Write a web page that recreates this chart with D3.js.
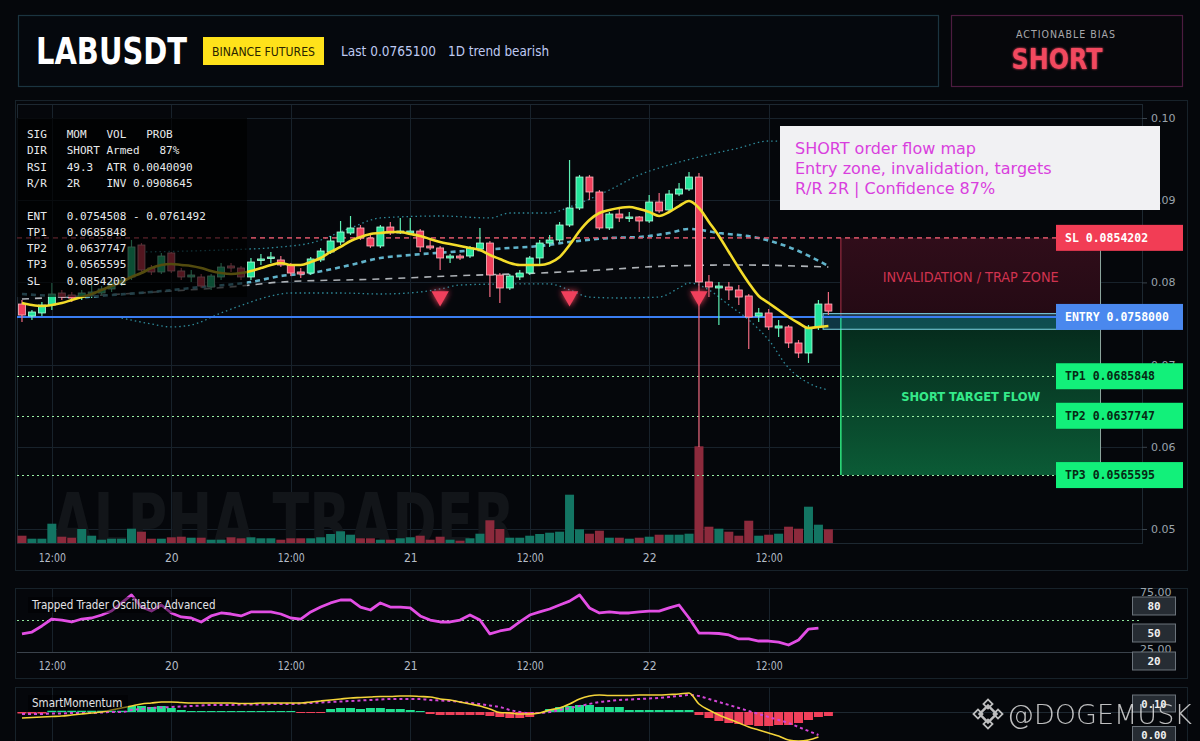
<!DOCTYPE html>
<html><head><meta charset="utf-8">
<script src="https://cdn.jsdelivr.net/npm/d3@7"></script>
<style>
html,body{margin:0;padding:0;background:#05070b;}
svg{display:block;}
.cond{font-family:"DejaVu Sans Condensed","DejaVu Sans","Liberation Sans Narrow",sans-serif;font-stretch:condensed;}
.mono{font-family:"DejaVu Sans Mono","Liberation Mono",monospace;}
</style></head>
<body>
<svg id="c" width="1200" height="741"></svg>
<script>
// ---------------- DATA ----------------
const symbol = "LABUSDT";
const exchange = "BINANCE FUTURES";
const lastText = "Last 0.0765100";
const trendText = "1D trend bearish";
const biasLabel = "ACTIONABLE BIAS";
const biasValue = "SHORT";

const opens = [0.07737,0.07591,0.07628,0.07725,0.07871,0.07847,0.07822,0.07859,0.07871,0.07920,
 0.07981,0.08066,0.08455,0.08175,0.08127,0.08358,0.08139,0.08066,0.08066,0.07944,
 0.08066,0.08200,0.08175,0.08066,0.08273,0.08297,0.08273,0.08212,0.08127,0.08114,
 0.08273,0.08370,0.08492,0.08601,0.08662,0.08540,0.08443,0.08674,0.08601,0.08601,
 0.08625,0.08443,0.08419,0.08297,0.08321,0.08321,0.08406,0.08479,0.08090,0.07932,
 0.08066,0.08114,0.08297,0.08479,0.08516,0.08698,0.08905,0.09282,0.09100,0.08662,
 0.08832,0.08784,0.08796,0.08747,0.08978,0.08881,0.09075,0.09136,0.09282,0.08005,
 0.07932,0.07944,0.07908,0.07835,0.07591,0.07628,0.07445,0.07458,0.07263,0.07141,
 0.07458,0.07737];
const closes = [0.07603,0.07640,0.07725,0.07859,0.07822,0.07810,0.07871,0.07883,0.07920,0.07993,
 0.08029,0.08431,0.08151,0.08127,0.08321,0.08139,0.08066,0.08090,0.07956,0.08078,
 0.08187,0.08175,0.08066,0.08248,0.08285,0.08309,0.08212,0.08114,0.08102,0.08285,
 0.08382,0.08504,0.08613,0.08662,0.08540,0.08443,0.08674,0.08601,0.08625,0.08625,
 0.08431,0.08419,0.08297,0.08321,0.08297,0.08419,0.08479,0.08090,0.07932,0.08078,
 0.08114,0.08297,0.08479,0.08516,0.08698,0.08905,0.09282,0.09100,0.08662,0.08832,
 0.08784,0.08796,0.08747,0.08978,0.08869,0.09075,0.09136,0.09282,0.08005,0.07944,
 0.07956,0.07908,0.07822,0.07579,0.07628,0.07458,0.07470,0.07263,0.07141,0.07445,
 0.07737,0.07651];
const highs = [0.07786,0.07664,0.07762,0.07993,0.07908,0.07883,0.07908,0.07968,0.07956,0.08029,
 0.08066,0.08516,0.08479,0.08212,0.08358,0.08370,0.08175,0.08151,0.08102,0.08102,
 0.08236,0.08236,0.08200,0.08297,0.08346,0.08370,0.08321,0.08236,0.08175,0.08309,
 0.08419,0.08565,0.08747,0.08808,0.08698,0.08577,0.08698,0.08735,0.08784,0.08784,
 0.08650,0.08516,0.08443,0.08346,0.08346,0.08443,0.08662,0.08504,0.08114,0.08102,
 0.08151,0.08321,0.08516,0.08577,0.08735,0.09489,0.09307,0.09307,0.09124,0.08856,
 0.08905,0.08856,0.08808,0.09063,0.09088,0.09124,0.09209,0.09343,0.09331,0.08090,
 0.08005,0.08005,0.07968,0.07859,0.07689,0.07676,0.07543,0.07482,0.07299,0.07482,
 0.07786,0.07883];
const lows = [0.07518,0.07543,0.07591,0.07664,0.07786,0.07762,0.07786,0.07810,0.07847,0.07883,
 0.07956,0.08029,0.08114,0.08090,0.08102,0.08114,0.08029,0.08005,0.07932,0.07908,
 0.08029,0.08127,0.08029,0.08029,0.08212,0.08236,0.08187,0.08078,0.08054,0.08090,
 0.08248,0.08346,0.08455,0.08577,0.08516,0.08419,0.08419,0.08577,0.08589,0.08589,
 0.08370,0.08394,0.08151,0.08236,0.08273,0.08297,0.08382,0.07822,0.07749,0.07908,
 0.08029,0.08090,0.08212,0.08431,0.08492,0.08674,0.08881,0.09002,0.08638,0.08638,
 0.08735,0.08735,0.08613,0.08723,0.08844,0.08856,0.09051,0.09112,0.05998,0.07822,
 0.07482,0.07786,0.07725,0.07190,0.07518,0.07421,0.07336,0.07202,0.07080,0.07020,
 0.07421,0.07603];
const volumes = [83,53,53,203,73,63,150,83,43,53,
 53,153,123,53,53,67,73,63,63,43,
 43,67,57,67,57,57,43,57,57,57,
 67,100,127,93,57,57,43,43,57,67,
 83,43,73,43,33,57,103,237,150,63,
 63,83,100,113,123,493,147,103,133,63,
 63,53,63,73,93,93,93,103,977,173,
 153,123,83,233,83,93,103,173,153,373,
 193,147];
const emaFast = [0.07749,0.07725,0.07713,0.07725,0.07749,0.07786,0.07822,0.07859,0.07908,0.07956,
 0.08005,0.08066,0.08114,0.08175,0.08212,0.08224,0.08212,0.08200,0.08175,0.08139,
 0.08114,0.08102,0.08114,0.08139,0.08175,0.08212,0.08236,0.08212,0.08212,0.08248,
 0.08297,0.08370,0.08431,0.08504,0.08552,0.08589,0.08601,0.08613,0.08613,0.08589,
 0.08565,0.08528,0.08492,0.08467,0.08443,0.08419,0.08394,0.08333,0.08285,0.08236,
 0.08212,0.08212,0.08212,0.08236,0.08309,0.08455,0.08625,0.08759,0.08844,0.08881,
 0.08905,0.08917,0.08893,0.08856,0.08808,0.08856,0.08929,0.08990,0.08905,0.08735,
 0.08565,0.08370,0.08175,0.07993,0.07835,0.07749,0.07664,0.07579,0.07506,0.07445,
 0.07458,0.07470];
// sparse knots (candle index, price)
const maMidIdx = [0,3,6,9,13,18,23,26,29,33,36,39,43,46,49,52,55,59,62,65,67,70,74,77,81];
const maMidVal = [0.07859,0.07835,0.07822,0.07847,0.07883,0.07944,0.08005,0.08078,0.08114,0.08212,0.08297,0.08333,0.08370,0.08394,0.08419,0.08443,0.08492,0.08540,0.08552,0.08601,0.08650,0.08601,0.08540,0.08431,0.08200];
const maSlowIdx = [0,10,23,26,36,43,52,58,65,72,81];
const maSlowVal = [0.07798,0.07859,0.07968,0.08005,0.08041,0.08078,0.08114,0.08151,0.08200,0.08212,0.08187];
const bandUpIdx = [12,20,26,29,33,36,42,47,49,53,55,59,62,65,68,72,75,78,81];
const bandUpVal = [0.08370,0.08394,0.08431,0.08479,0.08662,0.08784,0.08808,0.08784,0.08844,0.08844,0.08917,0.09124,0.09307,0.09428,0.09526,0.09635,0.09720,0.09696,0.09611];
const bandLoIdx = [10,13,15,17,20,23,25,27,32,36,40,42,44,49,53,55,57,60,64,66,67,69,71,73,75,77,79,81];
const bandLoVal = [0.07567,0.07494,0.07458,0.07482,0.07628,0.07762,0.07835,0.07871,0.07871,0.07859,0.07883,0.07920,0.07968,0.07981,0.07981,0.07908,0.07822,0.07810,0.07822,0.07932,0.07993,0.07908,0.07725,0.07543,0.07299,0.06959,0.06776,0.06691];
const signalIdx = [42,55,68];
const signalPrice = 0.0783;

const levelNames = ["SL","ENTRY","TP1","TP2","TP3"];
const levelPrices = [0.0854202,0.0758000,0.0685848,0.0637747,0.0565595];
const entryZone = [0.0762,0.0743];
const priceTicks = [0.05,0.06,0.07,0.08,0.09,0.10];
const timeTicks = ["2025-10-19T12:00Z","2025-10-20T00:00Z","2025-10-20T12:00Z","2025-10-21T00:00Z","2025-10-21T12:00Z","2025-10-22T00:00Z","2025-10-22T12:00Z"];

const infoRows = ["SIG   MOM   VOL   PROB","DIR   SHORT Armed   87%","RSI   49.3  ATR 0.0040090","R/R   2R    INV 0.0908645","","ENT   0.0754508 - 0.0761492","TP1   0.0685848","TP2   0.0637747","TP3   0.0565595","SL    0.0854202"];
const noteLines = ["SHORT order flow map","Entry zone, invalidation, targets","R/R 2R | Confidence 87%"];

const osc = [38.2,39.9,45.2,51.3,50.4,48.7,51.3,52.2,54.8,58.3,
 65.4,72.4,61.8,58.3,63.6,56.6,53.1,52.2,48.7,54.0,
 56.6,55.7,54.0,57.5,57.5,57.5,55.7,52.2,51.3,57.5,
 61.8,65.4,68.0,68.0,61.8,59.2,65.4,61.8,61.8,61.0,
 54.0,50.4,48.7,48.7,50.4,54.8,50.4,38.2,40.8,42.5,
 48.7,54.8,57.5,60.1,63.6,67.0,72.4,61.0,56.6,57.5,
 56.6,56.6,57.5,58.3,58.3,61.0,63.6,52.2,39.0,39.0,
 38.6,37.3,33.8,33.8,32.0,32.0,31.1,28.5,32.9,42.5,
 43.4];
const oscTicks = [25,75];
const oscBoxes = ["80","50","20"];

const momHist = [-0.015,-0.015,-0.015,0.015,0.015,0.015,0.015,0.015,0.015,0.015,
 0.015,0.06,0.06,0.05,0.06,0.04,0.02,0.01,0.01,0.01,
 0.01,0.01,0.01,0.01,0.01,0.01,0.01,0.01,-0.01,-0.01,
 -0.01,0.03,0.04,0.04,0.03,0.04,0.04,0.03,0.03,0.02,
 0.01,-0.02,-0.03,-0.03,-0.03,-0.03,-0.03,-0.04,-0.05,-0.06,
 -0.06,-0.05,-0.01,0.03,0.05,0.06,0.07,0.07,0.05,0.05,
 0.05,0.02,0.02,0.02,0.02,0.02,0.02,0.02,-0.03,-0.06,
 -0.09,-0.11,-0.12,-0.13,-0.14,-0.14,-0.13,-0.13,-0.11,-0.08,
 -0.05,-0.04];
const momLine = [-0.06,-0.055,-0.05,-0.045,-0.04,-0.03,-0.02,-0.01,0.00,0.02,
 0.04,0.06,0.08,0.09,0.10,0.10,0.095,0.09,0.09,0.09,
 0.09,0.09,0.085,0.085,0.09,0.09,0.09,0.09,0.09,0.10,
 0.11,0.12,0.13,0.14,0.145,0.15,0.155,0.155,0.16,0.16,
 0.155,0.15,0.13,0.12,0.10,0.08,0.06,0.03,-0.005,-0.01,
 -0.02,-0.02,-0.01,0.02,0.04,0.08,0.13,0.16,0.17,0.165,
 0.165,0.165,0.17,0.17,0.17,0.175,0.18,0.19,0.08,0.02,
 -0.03,-0.07,-0.11,-0.15,-0.18,-0.21,-0.24,-0.28,-0.29,-0.28,
 -0.25];
const momSignal = [-0.02,-0.02,-0.02,-0.015,-0.015,-0.01,-0.01,-0.01,-0.005,0.00,
 0.00,0.02,0.03,0.04,0.045,0.05,0.055,0.06,0.065,0.07,
 0.07,0.07,0.075,0.075,0.075,0.08,0.08,0.08,0.085,0.09,
 0.095,0.10,0.105,0.11,0.115,0.12,0.125,0.13,0.13,0.13,
 0.13,0.12,0.115,0.11,0.10,0.09,0.08,0.065,0.05,0.02,
 0.00,-0.01,-0.01,0.00,0.02,0.04,0.06,0.08,0.10,0.11,
 0.12,0.125,0.13,0.135,0.14,0.15,0.16,0.17,0.16,0.13,
 0.10,0.07,0.04,0.01,-0.02,-0.05,-0.08,-0.11,-0.15,-0.19,
 -0.23];
const momBoxes = ["0.10","0.00"];

// ---------------- SCALES ----------------
const times = opens.map((_, i) => new Date(Date.UTC(2025, 9, 19, 9 + i)));
const x = d3.scaleUtc().domain([Date.UTC(2025,9,19,8,30), Date.UTC(2025,9,24,1,30)]).range([17, 1142]);
const y = d3.scaleLinear().domain([0.05, 0.10]).range([529, 118]);
const yVol = d3.scaleLinear().domain([0, 1000]).range([544, 444]);
const yOsc = d3.scaleLinear().domain([25, 75]).range([649, 592]);
const yMom = d3.scaleLinear().domain([-0.3, 0.3]).range([742, 682]);
const tickDates = timeTicks.map(s => new Date(s));
const fmtTime = d => d.getUTCHours() === 0 ? String(d.getUTCDate()) : d3.utcFormat("%H:%M")(d);
const tx = i => x(times[i]);

const GREEN = "#22e39a", RED = "#f0405c";
const svg = d3.select("#c");
const defs = svg.append("defs");
function mkGlow(id, sd){
  const f = defs.append("filter").attr("id",id).attr("x","-60%").attr("y","-60%").attr("width","220%").attr("height","220%");
  f.append("feGaussianBlur").attr("stdDeviation",sd).attr("result","b");
  const m = f.append("feMerge"); m.append("feMergeNode").attr("in","b"); m.append("feMergeNode").attr("in","SourceGraphic");
}
mkGlow("glow",3); mkGlow("glowS",1.2);
const gg = defs.append("linearGradient").attr("id","gz").attr("x1",0).attr("y1",0).attr("x2",0).attr("y2",1);
gg.append("stop").attr("offset","0%").attr("stop-color","#05281b");
gg.append("stop").attr("offset","100%").attr("stop-color","#0b5b36");
const rg = defs.append("linearGradient").attr("id","rz").attr("x1",0).attr("y1",0).attr("x2",0).attr("y2",1);
rg.append("stop").attr("offset","0%").attr("stop-color","#300d1a");
rg.append("stop").attr("offset","100%").attr("stop-color","#240a14");
defs.append("clipPath").attr("id","clipMain").append("rect").attr("x",17).attr("y",104).attr("width",1125).attr("height",439);
defs.append("clipPath").attr("id","clipOsc").append("rect").attr("x",17).attr("y",589).attr("width",1125).attr("height",63);
defs.append("clipPath").attr("id","clipMom").append("rect").attr("x",17).attr("y",688).attr("width",1125).attr("height",60);

svg.append("rect").attr("width",1200).attr("height",741).attr("fill","#05070b");

// ---------------- HEADER ----------------
svg.append("rect").attr("x",18.5).attr("y",15.5).attr("width",920).attr("height",71).attr("fill","#05080d").attr("stroke","#1b3440").attr("stroke-width",1.2);
svg.append("rect").attr("x",951.5).attr("y",15.5).attr("width",231).attr("height",71).attr("fill","#06070b").attr("stroke","#4c1c40").attr("stroke-width",1.2);
svg.append("text").attr("class","cond").attr("x",36).attr("y",64).attr("font-size",37).attr("font-weight","bold").attr("fill","#ffffff").attr("textLength",151).attr("lengthAdjust","spacingAndGlyphs").text(symbol);
svg.append("rect").attr("x",203).attr("y",37).attr("width",121).attr("height",28).attr("fill","#ffe21a");
svg.append("text").attr("class","cond").attr("x",212).attr("y",56).attr("font-size",12.5).attr("fill","#2a2400").attr("textLength",103).attr("lengthAdjust","spacingAndGlyphs").text(exchange);
svg.append("text").attr("class","cond").attr("x",341).attr("y",56).attr("font-size",14).attr("fill","#bfcaf2").attr("textLength",95).attr("lengthAdjust","spacingAndGlyphs").text(lastText);
svg.append("text").attr("class","cond").attr("x",448).attr("y",56).attr("font-size",14).attr("fill","#bfcaf2").attr("textLength",101).attr("lengthAdjust","spacingAndGlyphs").text(trendText);
svg.append("text").attr("class","cond").attr("x",1066).attr("y",38).attr("text-anchor","middle").attr("font-size",10.5).attr("fill","#a8a8ac").attr("letter-spacing",1).text(biasLabel);
svg.append("text").attr("class","cond").attr("x",1057).attr("y",69).attr("text-anchor","middle").attr("font-size",29).attr("font-weight","bold").attr("fill","#f2485f").attr("filter","url(#glowS)").attr("textLength",91).attr("lengthAdjust","spacingAndGlyphs").text(biasValue);

// ---------------- MAIN PANEL ----------------
svg.append("rect").attr("x",15.5).attr("y",100.5).attr("width",1172).attr("height",470).attr("fill","#05070b").attr("stroke","#17222a");
const main = svg.append("g");
main.append("g").selectAll("line").data(priceTicks).join("line")
  .attr("x1",17).attr("x2",1142).attr("y1",d=>Math.round(y(d))+0.5).attr("y2",d=>Math.round(y(d))+0.5).attr("stroke","#18222b");
main.append("g").selectAll("line").data(tickDates).join("line")
  .attr("x1",d=>Math.round(x(d))+0.5).attr("x2",d=>Math.round(x(d))+0.5).attr("y1",104).attr("y2",543).attr("stroke","#18222b");
main.append("rect").attr("x",17.5).attr("y",104.5).attr("width",1125).attr("height",439).attr("fill","none").attr("stroke","#1d2831");

const plot = main.append("g").attr("clip-path","url(#clipMain)");

// watermark (clipped at the plot bottom)
plot.append("text").attr("class","cond").attr("x",52).attr("y",548).attr("font-size",76).attr("font-weight","bold").attr("fill","#121519").attr("textLength",463).attr("lengthAdjust","spacingAndGlyphs").text("ALPHA TRADER");

// zones
const zoneX0 = x(new Date(Date.UTC(2025,9,22,19,15))), zoneX1 = x(new Date(Date.UTC(2025,9,23,21,20)));
const entX0 = x(new Date(Date.UTC(2025,9,22,17,28)));
plot.append("rect").attr("x",zoneX0).attr("y",y(levelPrices[0])).attr("width",zoneX1-zoneX0).attr("height",y(levelPrices[1])-y(levelPrices[0])).attr("fill","url(#rz)");
plot.append("rect").attr("x",zoneX0).attr("y",y(levelPrices[1])).attr("width",zoneX1-zoneX0).attr("height",y(levelPrices[4])-y(levelPrices[1])).attr("fill","url(#gz)");
plot.append("line").attr("x1",zoneX0).attr("x2",zoneX0).attr("y1",y(levelPrices[0])).attr("y2",y(levelPrices[1])).attr("stroke","#7c2436").attr("stroke-width",1.5);
plot.append("line").attr("x1",zoneX0).attr("x2",zoneX0).attr("y1",y(levelPrices[1])).attr("y2",y(levelPrices[4])).attr("stroke","#2ee67f").attr("stroke-width",1.5);
plot.append("line").attr("x1",zoneX1).attr("x2",zoneX1).attr("y1",y(levelPrices[0])).attr("y2",y(levelPrices[4])).attr("stroke","#8fa79f").attr("stroke-width",1);
plot.append("rect").attr("x",entX0).attr("y",y(entryZone[0])).attr("width",zoneX1-entX0).attr("height",y(entryZone[1])-y(entryZone[0])).attr("fill","#1f8fb0").attr("fill-opacity",0.35).attr("stroke","#7ed6e6").attr("stroke-width",1);
plot.append("text").attr("class","cond").attr("x",(zoneX0+zoneX1)/2).attr("y",(y(levelPrices[0])+y(levelPrices[1]))/2+5).attr("text-anchor","middle").attr("font-size",13.5).attr("fill","#d0334f").attr("textLength",176).attr("lengthAdjust","spacingAndGlyphs").text("INVALIDATION / TRAP ZONE");
plot.append("text").attr("class","cond").attr("x",(zoneX0+zoneX1)/2).attr("y",y((levelPrices[2]+levelPrices[3])/2)+5).attr("text-anchor","middle").attr("font-size",13).attr("font-weight","bold").attr("fill","#35ea8a").attr("textLength",139).attr("lengthAdjust","spacingAndGlyphs").text("SHORT TARGET FLOW");

// volume
const candles = times.map((t,i)=>({t,i,o:opens[i],h:highs[i],l:lows[i],c:closes[i],v:volumes[i],up:closes[i]>=opens[i]}));
plot.append("g").selectAll("rect").data(candles).join("rect")
  .attr("x",d=>x(d.t)-4.5).attr("width",9).attr("y",d=>yVol(d.v)).attr("height",d=>yVol(0)-yVol(d.v))
  .attr("fill",d=>d.up?"#137563":"#8c2a3c");

// bands & MAs
const knotLine = (idx, vals) => idx.map((k,j)=>[tx(k), y(vals[j])]);
const curve = d3.line().curve(d3.curveMonotoneX);
plot.append("path").attr("d",curve(knotLine(bandUpIdx,bandUpVal))).attr("fill","none").attr("stroke","#2f8a9a").attr("stroke-width",1.3).attr("stroke-dasharray","1.5,3");
plot.append("path").attr("d",curve(knotLine(bandLoIdx,bandLoVal))).attr("fill","none").attr("stroke","#2f8a9a").attr("stroke-width",1.3).attr("stroke-dasharray","1.5,3");
plot.append("path").attr("d",curve(knotLine(maSlowIdx,maSlowVal))).attr("fill","none").attr("stroke","#d8dde2").attr("stroke-width",1.6).attr("stroke-dasharray","7,6").attr("opacity",0.8);
plot.append("path").attr("d",curve(knotLine(maMidIdx,maMidVal))).attr("fill","none").attr("stroke","#6cc6e0").attr("stroke-width",2.6).attr("stroke-dasharray","5,4").attr("opacity",0.9);

// level lines
const lineEnd = 1056;
plot.append("line").attr("x1",17).attr("x2",lineEnd).attr("y1",y(levelPrices[0])).attr("y2",y(levelPrices[0])).attr("stroke","#e0566a").attr("stroke-width",1.6).attr("stroke-dasharray","5,4").attr("opacity",0.85);
plot.selectAll(".tp").data(levelPrices.slice(2)).join("line").attr("class","tp")
  .attr("x1",17).attr("x2",lineEnd).attr("y1",d=>Math.round(y(d))+0.5).attr("y2",d=>Math.round(y(d))+0.5).attr("stroke","#9cf0a6").attr("stroke-width",1).attr("stroke-dasharray","2,3");
plot.append("line").attr("x1",17).attr("x2",lineEnd).attr("y1",y(levelPrices[1])).attr("y2",y(levelPrices[1])).attr("stroke","#3a7df2").attr("stroke-width",2);

// candles
const cg = plot.append("g");
cg.selectAll("line").data(candles).join("line")
  .attr("x1",d=>x(d.t)).attr("x2",d=>x(d.t)).attr("y1",d=>y(d.h)).attr("y2",d=>y(d.l))
  .attr("stroke",d=>d.up?"#5ef0b4":"#f06a80").attr("stroke-width",1.2);
cg.selectAll("rect").data(candles).join("rect")
  .attr("x",d=>x(d.t)-3.5).attr("width",7)
  .attr("y",d=>y(Math.max(d.o,d.c))).attr("height",d=>Math.max(1.5,Math.abs(y(d.o)-y(d.c))))
  .attr("fill",d=>d.up?GREEN:RED).attr("stroke",d=>d.up?"#b6ffdf":"#ffb9c4").attr("stroke-width",0.8);

// fast EMA
plot.append("path").attr("d",d3.line().curve(d3.curveMonotoneX)(emaFast.map((v,i)=>[tx(i),y(v)]))).attr("fill","none").attr("stroke","#f4dc2a").attr("stroke-width",2.6);

// signals
plot.selectAll(".sig").data(signalIdx).join("path").attr("class","sig")
  .attr("d",d3.symbol(d3.symbolTriangle,130)())
  .attr("transform",d=>`translate(${tx(d)},${y(signalPrice)}) rotate(180)`)
  .attr("fill",RED).attr("filter","url(#glow)");

// info panel
main.append("rect").attr("x",17).attr("y",118).attr("width",230).attr("height",179).attr("fill","#000000").attr("fill-opacity",0.66);
main.append("g").selectAll("text").data(infoRows).join("text").attr("class","mono")
  .attr("x",27).attr("y",(d,i)=>138+i*16.3).attr("font-size",11).attr("fill","#e8eaec").attr("xml:space","preserve").style("white-space","pre").text(d=>d);

// price axis
const pa = main.append("g").attr("transform","translate(1142,0)")
  .call(d3.axisRight(y).tickValues(priceTicks).tickFormat(d3.format(".2f")).tickSize(5).tickPadding(4));
pa.select(".domain").remove();
pa.selectAll("line").attr("stroke","#3a444d");
pa.selectAll("text").attr("fill","#9aa3ac").attr("font-size",11).attr("font-family","DejaVu Sans, sans-serif");

// right labels
const labFill = ["#f23d55","#4a88ee","#12f07a","#12f07a","#12f07a"];
const labText = ["#ffffff","#ffffff","#062a14","#062a14","#062a14"];
const lg = main.append("g").selectAll("g").data(levelPrices).join("g").attr("transform",d=>`translate(1056,${y(d)})`);
lg.append("rect").attr("x",0).attr("y",-13).attr("width",127).attr("height",26).attr("fill",(d,i)=>labFill[i]);
lg.append("text").attr("class","mono").attr("x",9).attr("y",4).attr("font-size",11.5).attr("font-weight","bold").attr("fill",(d,i)=>labText[i])
  .text((d,i)=>`${levelNames[i]} ${d3.format(".7f")(d)}`);

// annotation (drawn above the axis label)
main.append("rect").attr("x",780).attr("y",126).attr("width",380).attr("height",84).attr("fill","#f1f1f3");
main.append("g").selectAll("text").data(noteLines).join("text")
  .attr("x",795).attr("y",(d,i)=>154+i*20).attr("font-family","DejaVu Sans, sans-serif").attr("font-size",16).attr("fill","#d93fde").text(d=>d);

// time axis
const taxis = g => {
  g.call(d3.axisBottom(x).tickValues(tickDates).tickFormat(fmtTime).tickSize(0).tickPadding(0));
  g.select(".domain").remove();
  g.selectAll("text").attr("dy",null).attr("dominant-baseline","central").attr("fill","#b4bcc6").attr("font-size",12)
   .attr("font-family","DejaVu Sans Condensed, DejaVu Sans, sans-serif")
   .each(function(d){ if (d.getUTCHours() !== 0) d3.select(this).attr("textLength",27).attr("lengthAdjust","spacingAndGlyphs"); });
};
main.append("g").attr("transform","translate(0,558)").call(taxis);

// ---------------- OSC PANEL ----------------
svg.append("rect").attr("x",15.5).attr("y",588.5).attr("width",1172).attr("height",90).attr("fill","#05070b").attr("stroke","#17222a");
const og = svg.append("g");
og.append("g").selectAll("line").data(tickDates).join("line")
  .attr("x1",d=>Math.round(x(d))+0.5).attr("x2",d=>Math.round(x(d))+0.5).attr("y1",589).attr("y2",652).attr("stroke","#18222b");
og.append("line").attr("x1",17).attr("x2",1142).attr("y1",652.5).attr("y2",652.5).attr("stroke","#3a424b");
og.append("line").attr("x1",17).attr("x2",1142).attr("y1",yOsc(50)).attr("y2",yOsc(50)).attr("stroke","#8ee59a").attr("stroke-width",1).attr("stroke-dasharray","2,3");
og.append("path").attr("clip-path","url(#clipOsc)").attr("d",d3.line()(osc.map((v,i)=>[tx(i),yOsc(v)]))).attr("fill","none").attr("stroke","#e24ee4").attr("stroke-width",2.8).attr("stroke-linejoin","round");
og.append("rect").attr("x",28).attr("y",597).attr("width",188).attr("height",16).attr("fill","#000").attr("fill-opacity",0.45);
og.append("text").attr("class","cond").attr("x",32).attr("y",609).attr("font-size",11.5).attr("fill","#e2e4e6").text("Trapped Trader Oscillator Advanced");
og.append("g").selectAll("text").data(oscTicks).join("text").attr("x",1140).attr("y",d=>yOsc(d)+4).attr("font-family","DejaVu Sans, sans-serif").attr("font-size",11).attr("fill","#9aa3ac").text(d=>d3.format(".2f")(d));
const obY = [606,633,661];
const ob = og.append("g").selectAll("g").data(oscBoxes).join("g").attr("transform",(d,i)=>`translate(1132,${obY[i]})`);
ob.append("rect").attr("x",0.5).attr("y",-9).attr("width",43).attr("height",18).attr("fill","#262c33").attr("stroke","#6b737b");
ob.append("text").attr("class","mono").attr("x",22).attr("y",4).attr("text-anchor","middle").attr("font-size",11).attr("font-weight","bold").attr("fill","#f0f0f0").text(d=>d);
og.append("g").attr("transform","translate(0,666)").call(taxis);

// ---------------- MOMENTUM PANEL ----------------
svg.append("rect").attr("x",15.5).attr("y",687.5).attr("width",1172).attr("height",70).attr("fill","#05070b").attr("stroke","#17222a");
const mg = svg.append("g");
mg.append("g").selectAll("line").data(tickDates).join("line")
  .attr("x1",d=>Math.round(x(d))+0.5).attr("x2",d=>Math.round(x(d))+0.5).attr("y1",688).attr("y2",741).attr("stroke","#18222b");
mg.append("line").attr("x1",17).attr("x2",1142).attr("y1",yMom(0)+0.5).attr("y2",yMom(0)+0.5).attr("stroke","#1e2831");
const mclip = mg.append("g").attr("clip-path","url(#clipMom)");
mclip.selectAll("rect").data(momHist).join("rect")
  .attr("x",(d,i)=>tx(i)-4.5).attr("width",9)
  .attr("y",d=>d>=0?yMom(d):yMom(0)).attr("height",d=>Math.abs(yMom(d)-yMom(0)))
  .attr("fill",d=>d>=0?"#1fe08f":"#f0405a");
mclip.append("path").attr("d",d3.line().curve(d3.curveMonotoneX)(momSignal.map((v,i)=>[tx(i),yMom(v)]))).attr("fill","none").attr("stroke","#d246d6").attr("stroke-width",2).attr("stroke-dasharray","3,3");
mclip.append("path").attr("d",d3.line().curve(d3.curveMonotoneX)(momLine.map((v,i)=>[tx(i),yMom(v)]))).attr("fill","none").attr("stroke","#f4d43a").attr("stroke-width",1.6);
mg.append("rect").attr("x",28).attr("y",695).attr("width",100).attr("height",16).attr("fill","#000").attr("fill-opacity",0.45);
mg.append("text").attr("class","cond").attr("x",32).attr("y",707).attr("font-size",11.5).attr("fill","#e2e4e6").text("SmartMomentum");
const mbY = [703.5,735];
const mb = mg.append("g").selectAll("g").data(momBoxes).join("g").attr("transform",(d,i)=>`translate(1132,${mbY[i]})`);
mb.append("rect").attr("x",0.5).attr("y",-8.5).attr("width",43).attr("height",17).attr("fill","#262c33").attr("stroke","#6b737b");
mb.append("text").attr("class","mono").attr("x",22).attr("y",4).attr("text-anchor","middle").attr("font-size",10.5).attr("font-weight","bold").attr("fill","#f0f0f0").text(d=>d);

// ---------------- WATERMARK ----------------
const wm = svg.append("g").attr("opacity",0.82);
const lgc = [988,714];
[[0,0,6],[-10,0,3.2],[10,0,3.2],[0,-10,3.2],[0,10,3.2]].forEach(([dx,dy,r])=>{
  wm.append("rect").attr("x",lgc[0]+dx-r).attr("y",lgc[1]+dy-r).attr("width",2*r).attr("height",2*r)
    .attr("transform",`rotate(45,${lgc[0]+dx},${lgc[1]+dy})`).attr("fill","none").attr("stroke","#e6e6e6").attr("stroke-width",dx===0&&dy===0?2.4:1.8);
});
wm.append("text").attr("x",1007).attr("y",724).attr("font-family","DejaVu Sans, sans-serif").attr("font-size",27).attr("font-weight",300).attr("fill","#e8e8e8").attr("textLength",185).attr("lengthAdjust","spacing").text("@DOGEMUSK");
</script>
</body></html>
